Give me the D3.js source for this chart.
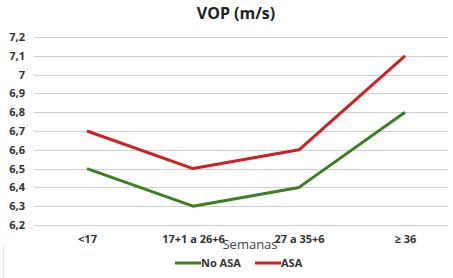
<!DOCTYPE html>
<html>
<head>
<meta charset="utf-8">
<script src="https://cdn.jsdelivr.net/npm/d3@7"></script>
<style>
  body { margin: 0; background: #fff; }
  svg { display: block; font-family: "Open Sans", "Liberation Sans", sans-serif; }
</style>
</head>
<body>
<div id="chart"></div>
<script>
var categories = ["<17", "17+1 a 26+6", "27 a 35+6", "\u2265 36"],
    noAsa = [6.5, 6.3, 6.4, 6.8],
    asa = [6.7, 6.5, 6.6, 7.1],
    yTicks = [6.2, 6.3, 6.4, 6.5, 6.6, 6.7, 6.8, 6.9, 7, 7.1, 7.2];

var series = [
    { name: "No ASA", values: noAsa, color: "#3f7f24" },
    { name: "ASA", values: asa, color: "#d11f22" }
];

var w = 453, h = 278;

var svg = d3.select("#chart").append("svg")
    .attr("width", w)
    .attr("height", h);

// light frame on the left/right edges
svg.append("line").attr("x1", 3.5).attr("x2", 3.5).attr("y1", 245).attr("y2", h)
    .attr("stroke", "#e4e4e4");

var xScale = d3.scalePoint()
    .domain(categories)
    .range([87, 405]);

var yScale = d3.scaleLinear()
    .domain([6.2, 7.2])
    .range([225, 37]);

// gridlines
svg.append("g")
    .selectAll("line")
    .data(yTicks)
    .enter().append("line")
    .attr("x1", 34)
    .attr("x2", 448)
    .attr("y1", function (d) { return Math.round(yScale(d)) + 0.5; })
    .attr("y2", function (d) { return Math.round(yScale(d)) + 0.5; })
    .attr("stroke", "#d0d0d0")
    .attr("stroke-width", 1);

var yAxis = d3.axisLeft(yScale)
    .tickValues(yTicks)
    .tickSize(0)
    .tickPadding(0)
    .tickFormat(function (d) { return String(d).replace(".", ","); });

svg.append("g")
    .attr("transform", "translate(25,0)")
    .call(yAxis)
    .call(function (g) { g.select(".domain").remove(); })
    .selectAll("text")
    .attr("font-size", 11)
    .attr("font-weight", "bold")
    .attr("font-family", "'Open Sans', sans-serif")
    .attr("fill", "#333");

var xAxis = d3.axisBottom(xScale).tickSize(0).tickPadding(0);

svg.append("g")
    .attr("transform", "translate(0,235)")
    .call(xAxis)
    .call(function (g) { g.select(".domain").remove(); })
    .selectAll("text")
    .attr("font-size", 11)
    .attr("font-weight", "bold")
    .attr("font-family", "'Open Sans', sans-serif")
    .attr("fill", "#333");

// axis title
svg.append("text")
    .attr("x", 250)
    .attr("y", 249)
    .attr("text-anchor", "middle")
    .attr("font-size", 13)
    .attr("fill", "#444")
    .text("Semanas");

// chart title
svg.append("text")
    .attr("x", 236)
    .attr("y", 19)
    .attr("text-anchor", "middle")
    .attr("font-size", 16)
    .attr("font-weight", "bold")
    .attr("fill", "#222")
    .text("VOP (m/s)");

var line = d3.line()
    .x(function (d, i) { return xScale(categories[i]); })
    .y(function (d) { return yScale(d); });

svg.selectAll(".series")
    .data(series)
    .enter().append("path")
    .attr("class", "series")
    .attr("d", function (d) { return line(d.values); })
    .attr("fill", "none")
    .attr("stroke", function (d) { return d.color; })
    .attr("stroke-width", 3)
    .attr("stroke-linejoin", "round");

// legend
var legendX = [175, 255];
var legend = svg.selectAll(".legend")
    .data(series)
    .enter().append("g")
    .attr("class", "legend")
    .attr("transform", function (d, i) { return "translate(" + legendX[i] + ",263)"; });

legend.append("line")
    .attr("x1", 0).attr("x2", 26)
    .attr("y1", 0).attr("y2", 0)
    .attr("stroke", function (d) { return d.color; })
    .attr("stroke-width", 3);

legend.append("text")
    .attr("x", 26)
    .attr("y", 4)
    .attr("font-size", 11)
    .attr("font-weight", "bold")
    .attr("fill", "#333")
    .text(function (d) { return d.name; });
</script>
</body>
</html>
